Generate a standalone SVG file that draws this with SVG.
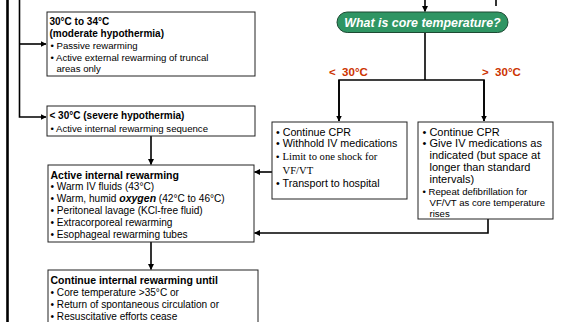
<svg xmlns="http://www.w3.org/2000/svg" width="561" height="322" viewBox="0 0 561 322">
<style>
.box{fill:#fff;stroke:#222;stroke-width:1}
.t{font-family:"Liberation Sans",Arial,sans-serif;font-size:9.6px;fill:#000}
.t2{font-family:"Liberation Sans",Arial,sans-serif;font-size:10.1px;fill:#000}
.h{font-family:"Liberation Sans",Arial,sans-serif;font-size:10px;font-weight:bold;fill:#000}
.h2{font-family:"Liberation Sans",Arial,sans-serif;font-size:10.5px;font-weight:bold;fill:#000}
.m{font-family:"Liberation Sans",Arial,sans-serif;font-size:10.7px;fill:#000}
.m2{font-family:"Liberation Sans",Arial,sans-serif;font-size:11px;fill:#000}
.s{font-family:"Liberation Sans",Arial,sans-serif;font-size:9.6px;fill:#000}
.sf{font-family:"Liberation Serif","Times New Roman",serif;font-size:10.6px;fill:#000}
.red{font-family:"Liberation Sans",Arial,sans-serif;font-size:11.5px;font-weight:bold;fill:#cc3300}
.c{fill:none;stroke:#000;stroke-width:1.6}
</style>
<defs>
<marker id="ah" markerWidth="6" markerHeight="6" refX="5.5" refY="3" orient="auto" markerUnits="userSpaceOnUse">
<path d="M0,0 L6,3 L0,6 z" fill="#000"/>
</marker>
</defs>
<g id="connectors">
<line x1="7.5" y1="0" x2="7.5" y2="322" stroke="#000" stroke-width="2.6"/>
<polyline class="c" points="19.5,0 19.5,117 46,117" marker-end="url(#ah)"/>
<line class="c" x1="19.5" y1="44" x2="46" y2="44" marker-end="url(#ah)"/>
<line class="c" x1="425" y1="0" x2="425" y2="11.5" marker-end="url(#ah)"/>
<line class="c" x1="496" y1="0" x2="496" y2="6"/>
<line class="c" x1="425" y1="32" x2="425" y2="80"/>
<polyline class="c" points="339,121 339,80 484,80 484,121"/>
<line class="c" x1="339" y1="80" x2="339" y2="121" marker-end="url(#ah)"/>
<line class="c" x1="484" y1="80" x2="484" y2="121" marker-end="url(#ah)"/>
<line class="c" x1="151" y1="136" x2="151" y2="164.5" marker-end="url(#ah)"/>
<line class="c" x1="151" y1="242" x2="151" y2="269.5" marker-end="url(#ah)"/>
<line class="c" x1="272" y1="172" x2="254.5" y2="172" marker-end="url(#ah)"/>
<polyline class="c" points="488,219 488,233 254.5,233" marker-end="url(#ah)"/>
</g>
<g id="decision">
<rect x="337" y="12" width="171" height="20.5" rx="10.25" fill="#2f9563" stroke="#1d4a33" stroke-width="1"/>
<text x="422.5" y="26.5" text-anchor="middle" font-family="'Liberation Sans',Arial,sans-serif" font-size="12.4px" font-weight="bold" font-style="italic" fill="#fff">What is core temperature?</text>
</g>
<g id="label-lt">
<text class="red" x="329" y="75.5" xml:space="preserve">&lt;  30°C</text>
</g>
<g id="label-gt">
<text class="red" x="482" y="75.5" xml:space="preserve">&gt;  30°C</text>
</g>
<g id="moderate">
<rect class="box" x="47" y="12" width="208" height="64"/>
<text class="h" x="49.5" y="24.5">30°C to 34°C</text>
<text class="h" x="49.5" y="36.5">(moderate hypothermia)</text>
<text class="t" x="50.5" y="48.5">• Passive rewarming</text>
<text class="t" x="50.5" y="60.5">• Active external rewarming of truncal</text>
<text class="t" x="56.5" y="72">areas only</text>
</g>
<g id="severe">
<rect class="box" x="47" y="106" width="208" height="30"/>
<text class="h" x="49.5" y="119">&lt; 30°C (severe hypothermia)</text>
<text class="t" x="50.5" y="131.5">• Active internal rewarming sequence</text>
</g>
<g id="active">
<rect class="box" x="48" y="165" width="206" height="77"/>
<text class="h2" x="50.5" y="178.5">Active internal rewarming</text>
<text class="t2" x="50.5" y="190.3">• Warm IV fluids (43°C)</text>
<text class="t2" x="50.5" y="202.1">• Warm, humid <tspan font-weight="bold" font-style="italic" font-size="10.5px">oxygen</tspan> (42°C to 46°C)</text>
<text class="t2" x="50.5" y="213.9">• Peritoneal lavage (KCl-free fluid)</text>
<text class="t2" x="50.5" y="225.7">• Extracorporeal rewarming</text>
<text class="t2" x="50.5" y="237.5">• Esophageal rewarming tubes</text>
</g>
<g id="continue">
<rect class="box" x="48" y="270" width="210" height="60"/>
<text class="h2" x="50.5" y="283.5">Continue internal rewarming until</text>
<text class="t2" x="50.5" y="295.5">• Core temperature &gt;35°C or</text>
<text class="t2" x="50.5" y="307.5">• Return of spontaneous circulation or</text>
<text class="t2" x="50.5" y="319.5">• Resuscitative efforts cease</text>
</g>
<g id="below30">
<rect class="box" x="272" y="122" width="135" height="77"/>
<text class="m" x="276" y="135.5">• Continue CPR</text>
<text class="m" x="276" y="147">• Withhold IV medications</text>
<text class="t" x="276" y="160">•</text>
<text class="sf" x="282.5" y="160">Limit to one shock for</text>
<text class="sf" x="282.5" y="174">VF/VT</text>
<text class="m" x="276" y="186.5">• Transport to hospital</text>
</g>
<g id="above30">
<rect class="box" x="418" y="122" width="135" height="97"/>
<text class="m2" x="422.5" y="135.5">• Continue CPR</text>
<text class="m2" x="422.5" y="147">• Give IV medications as</text>
<text class="m2" x="429.5" y="158.8">indicated (but space at</text>
<text class="m2" x="429.5" y="170.8">longer than standard</text>
<text class="m2" x="429.5" y="182.6">intervals)</text>
<text class="s" x="422.5" y="195">• Repeat defibrillation for</text>
<text class="s" x="429.5" y="206">VF/VT as core temperature</text>
<text class="s" x="429.5" y="217">rises</text>
</g>
</svg>
